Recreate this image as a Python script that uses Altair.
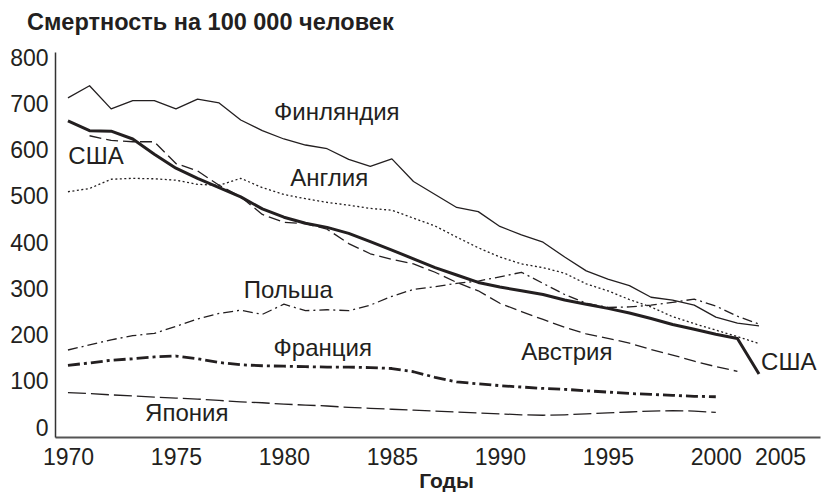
import altair as alt
import pandas as pd

years = list(range(1970, 2003))

finland = [714, 740, 690, 708, 708, 690, 711, 703, 666, 643, 625, 612, 604, 581, 566, 582,
           533, 505, 477, 468, 436, 418, 402, 370, 340, 322, 308, 283, 277, 266, 240, 227, 221]
usa = [664, 643, 642, 625, 592, 562, 540, 520, 500, 474, 456, 443, 434, 421, 403, 385,
       366, 347, 331, 315, 305, 297, 289, 277, 268, 259, 249, 237, 224, 214, 203, 194, 117]
england = [511, 518, 538, 540, 539, 536, 527, 525, 540, 520, 505, 496, 488, 482, 475, 471,
           454, 437, 413, 390, 370, 355, 347, 335, 312, 297, 278, 262, 241, 226, 212, 198, 183]
austria_years = list(range(1971, 2002))
austria = [632, 622, 619, 619, 572, 556, 525, 500, 462, 445, 442, 430, 399, 377, 365, 355,
           337, 315, 297, 270, 252, 235, 218, 204, 194, 184, 170, 158, 145, 133, 123]
poland = [169, 180, 191, 200, 205, 220, 236, 248, 255, 246, 268, 254, 256, 254, 266, 285,
          300, 306, 313, 318, 327, 337, 313, 289, 270, 261, 262, 266, 272, 279, 264, 242, 225]
france_years = list(range(1970, 2001))
france = [136, 141, 147, 150, 154, 156, 150, 142, 137, 135, 134, 133, 132, 132, 131, 129,
          122, 110, 100, 96, 92, 89, 86, 84, 81, 78, 75, 73, 71, 69, 68]
japan_years = list(range(1970, 2001))
japan = [77, 75, 72, 70, 67, 65, 63, 60, 57, 55, 52, 50, 48, 45, 43, 41,
         39, 37, 35, 33, 31, 29, 28, 29, 31, 33, 35, 37, 38, 37, 34]

label_text = ["Финляндия", "США", "Англия", "Польша", "Франция", "Япония", "Австрия", "США"]
label_year = [1982.45, 1971.3, 1982.1, 1980.2, 1981.8, 1975.5, 1993.1, 2002.3]
label_value = [681, 586, 538, 296, 171, 30, 162, 141]
label_align = ["center", "center", "center", "center", "center", "center", "center", "left"]

x_ticks = [1970, 1975, 1980, 1985, 1990, 1995, 2000, 2005]
y_ticks = [0, 100, 200, 300, 400, 500, 600, 700, 800]

series = [
    ("Финляндия", years, finland),
    ("США", years, usa),
    ("Англия", years, england),
    ("Австрия", austria_years, austria),
    ("Польша", years, poland),
    ("Франция", france_years, france),
    ("Япония", japan_years, japan),
]

rows = []
for name, ys, vs in series:
    for y, v in zip(ys, vs):
        rows.append({"series": name, "year": y, "value": v})
df = pd.DataFrame(rows)

styles = {
    "Финляндия": dict(strokeWidth=1.3),
    "США": dict(strokeWidth=3.0),
    "Англия": dict(strokeWidth=1.3, strokeDash=[2, 2.5]),
    "Австрия": dict(strokeWidth=1.3, strokeDash=[12, 5]),
    "Польша": dict(strokeWidth=1.3, strokeDash=[10, 4, 2, 4]),
    "Франция": dict(strokeWidth=2.8, strokeDash=[12, 4, 3, 4]),
    "Япония": dict(strokeWidth=1.3, strokeDash=[18, 5]),
}

FONT = "Liberation Sans"
INK = "#231f20"

xscale = alt.Scale(domain=[1969.4, 2002, 2005, 2006.9], range=[0, 704, 725, 765])
yscale = alt.Scale(domain=[-19, 813], nice=False, zero=False)

xaxis = alt.Axis(values=x_ticks, ticks=False, grid=False, labelFontSize=23, labelFont=FONT,
                 labelColor=INK, labelPadding=9, domainColor="#555555", domainWidth=2,
                 format="d", title="Годы", titleFontSize=21, titleFont=FONT,
                 titleFontWeight="bold", titleColor=INK, titlePadding=1, titleX=391,
                 labelFlush=False, labelOverlap=False)
yaxis = alt.Axis(values=y_ticks, ticks=False, grid=False, labelFontSize=23, labelFont=FONT,
                 labelColor=INK, labelPadding=7, domainColor="#333333", domainWidth=1.5,
                 title=None, labelFlush=False, labelOverlap=False)

enc_x = alt.X("year:Q", scale=xscale, axis=xaxis)
enc_y = alt.Y("value:Q", scale=yscale, axis=yaxis)

base = alt.Chart(df)
layers = []
for name, _, _ in series:
    layers.append(
        base.transform_filter(alt.datum.series == name)
        .mark_line(color=INK, strokeCap="butt", strokeJoin="round", **styles[name])
        .encode(x=enc_x, y=enc_y)
    )

labels_df = pd.DataFrame({"text": label_text, "year": label_year, "value": label_value,
                          "align": label_align})
for al in ["center", "left"]:
    layers.append(
        alt.Chart(labels_df).transform_filter(alt.datum.align == al)
        .mark_text(font=FONT, fontSize=24, color=INK, align=al, baseline="middle")
        .encode(x=enc_x, y=enc_y, text="text:N")
    )

chart = alt.layer(*layers).properties(
    width=765, height=385,
    title=alt.TitleParams("Смертность на 100 000 человек", anchor="start", frame="group",
                          dx=-28, fontSize=23.5, font=FONT, fontWeight="bold", color=INK,
                          offset=13),
    autosize=alt.AutoSizeParams(type="none"),
    padding={"left": 47, "top": 44, "right": 12, "bottom": 59},
).configure_view(stroke=None)

chart.save("out.html", embed_options={"renderer": "svg", "actions": False})
